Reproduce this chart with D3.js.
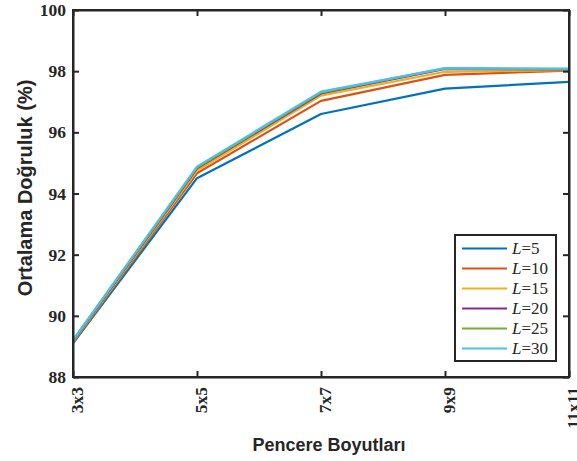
<!DOCTYPE html>
<html><head><meta charset="utf-8">
<script src="https://cdn.jsdelivr.net/npm/d3@7"></script>
<style>body{margin:0;background:#fff}</style>
</head><body>
<svg id="c" width="577" height="461"></svg>
<script>
const categories = ["3x3","5x5","7x7","9x9","11x11"];
const seriesNames = ["L=5","L=10","L=15","L=20","L=25","L=30"];
const L5  = [89.10, 94.50, 96.60, 97.43, 97.65];
const L10 = [89.13, 94.66, 97.03, 97.88, 98.02];
const L15 = [89.15, 94.75, 97.20, 97.98, 98.03];
const L20 = [89.17, 94.82, 97.27, 98.07, 98.06];
const L25 = [89.19, 94.85, 97.30, 98.10, 98.07];
const L30 = [89.21, 94.88, 97.33, 98.09, 98.08];
const seriesValues = [L5, L10, L15, L20, L25, L30];
const colors = ["#0072BD","#D95319","#EDB120","#7E2F8E","#77AC30","#4DBEEE"];
const yTicks = [88,90,92,94,96,98,100];

(function(){
const svg = d3.select("#c");
const m = {l:73, r:569, t:10, b:377};
const x = d3.scalePoint().domain(categories).range([m.l, m.r]);
const y = d3.scaleLinear().domain([88,100]).range([m.b, m.t]);
const serif = "'Liberation Serif','Times New Roman',serif";
const sans = "'Liberation Sans',Arial,sans-serif";

// lines
const line = d3.line().x((d,i)=>x(categories[i])).y(d=>y(d));
seriesValues.forEach((s,k)=>{
  svg.append("path").datum(s).attr("d", line).attr("fill","none")
    .attr("stroke", colors[k]).attr("stroke-width",2.2).attr("stroke-linejoin","round");
});

// axes
const axB = d3.axisBottom(x).tickSizeInner(-6).tickSizeOuter(0).tickFormat("");
const axT = d3.axisTop(x).tickSizeInner(-6).tickSizeOuter(0).tickFormat("");
const axL = d3.axisLeft(y).tickValues(yTicks).tickSizeInner(-6).tickSizeOuter(0).tickFormat("");
const axR = d3.axisRight(y).tickValues(yTicks).tickSizeInner(-6).tickSizeOuter(0).tickFormat("");
[[axB,`translate(0,${m.b})`],[axT,`translate(0,${m.t})`],[axL,`translate(${m.l},0)`],[axR,`translate(${m.r},0)`]].forEach(([a,t])=>{
  const g = svg.append("g").attr("transform",t).call(a);
  g.selectAll("path,line").attr("stroke","#262626").attr("stroke-width",2);
});
svg.append("rect").attr("x",m.l).attr("y",m.t).attr("width",m.r-m.l).attr("height",m.b-m.t)
  .attr("fill","none").attr("stroke","#262626").attr("stroke-width",2);

// y tick labels
svg.append("g").selectAll("text").data(yTicks).join("text")
  .attr("x", m.l-7).attr("y", d=>y(d)).attr("dy","0.35em").attr("text-anchor","end")
  .attr("font-family",serif).attr("font-weight","bold").attr("font-size",17.5).attr("fill","#262626")
  .text(d=>d);
// x tick labels rotated
svg.append("g").selectAll("text").data(categories).join("text")
  .attr("transform", d=>`translate(${x(d)+4},${m.b+10}) rotate(-90)`)
  .attr("text-anchor","end").attr("dy","0.35em")
  .attr("font-family",serif).attr("font-weight","bold").attr("font-size",17.5).attr("fill","#262626")
  .text(d=>d);

// axis titles
svg.append("text").attr("x",329).attr("y",451).attr("text-anchor","middle")
  .attr("font-family",sans).attr("font-weight","bold").attr("font-size",18).attr("fill","#262626")
  .text("Pencere Boyutları");
svg.append("text").attr("transform",`translate(32,188) rotate(-90)`).attr("text-anchor","middle")
  .attr("font-family",sans).attr("font-weight","bold").attr("font-size",20).attr("fill","#262626")
  .text("Ortalama Doğruluk (%)");

// legend
const lg = svg.append("g");
lg.append("rect").attr("x",455).attr("y",235).attr("width",101).attr("height",126)
  .attr("fill","#fff").attr("stroke","#262626").attr("stroke-width",2);
seriesNames.forEach((n,k)=>{
  const yy = 248.5 + k*20;
  lg.append("line").attr("x1",462).attr("x2",507).attr("y1",yy).attr("y2",yy)
    .attr("stroke",colors[k]).attr("stroke-width",2.2);
  const t = lg.append("text").attr("x",512).attr("y",yy).attr("dy","0.35em")
    .attr("font-family",serif).attr("font-size",17).attr("fill","#262626");
  t.append("tspan").attr("font-style","italic").text("L");
  t.append("tspan").text(n.slice(1));
});
})();
</script>
</body></html>
